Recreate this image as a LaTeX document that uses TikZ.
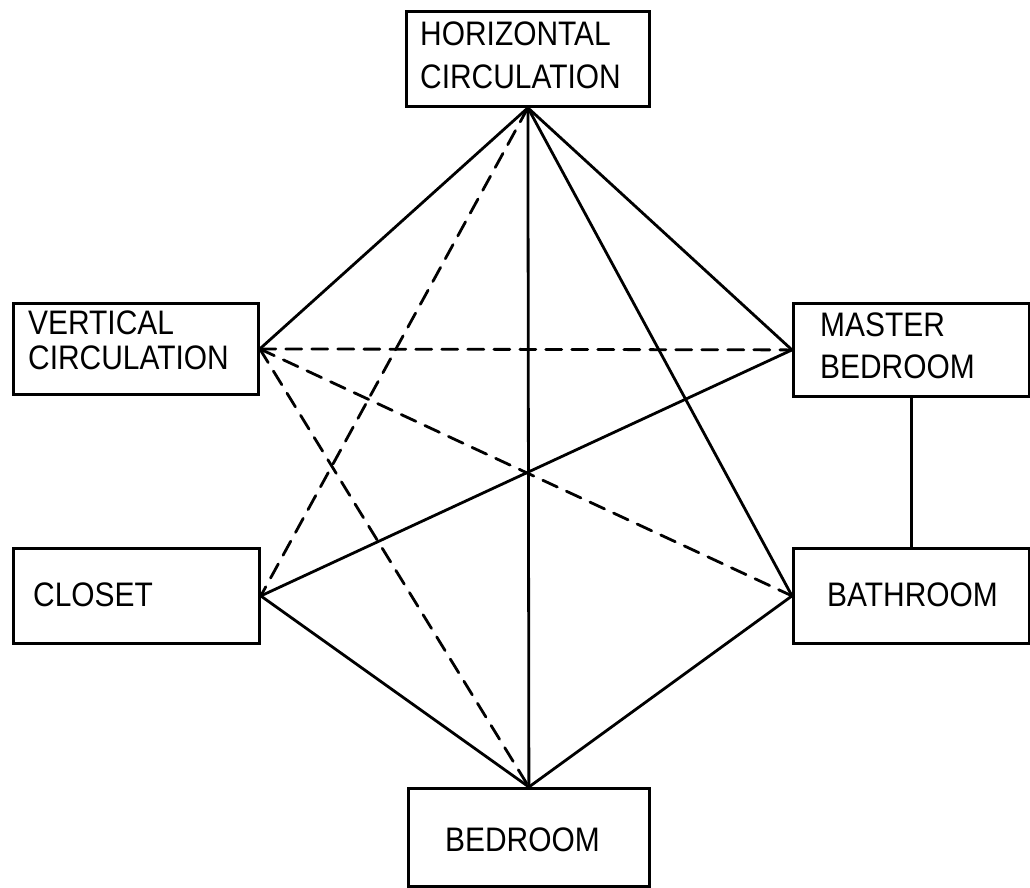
\documentclass[tikz,border=0pt]{standalone}
\usepackage{fontspec}
\setmainfont{Liberation Sans}[FakeStretch=0.88]
\begin{document}
\begin{tikzpicture}[x=1pt,y=-1pt,
  room/.style={draw, line width=2.8pt, inner sep=0pt, anchor=north west},
  lbl/.style={anchor=base west, inner sep=0pt, font=\fontsize{34}{38}\selectfont},
  link/.style={line width=2.8pt, line cap=round},
  weak/.style={link, dash pattern=on 16pt off 10pt}]
\useasboundingbox (0,0) rectangle (1030,887);

% rooms
\node[room, minimum width=243pt, minimum height=95pt] (hc) at (405,10) {};
\node[room, minimum width=245pt, minimum height=91pt] (vc) at (12,302) {};
\node[room, minimum width=236pt, minimum height=93pt] (mb) at (792,302) {};
\node[room, minimum width=246pt, minimum height=95pt] (cl) at (12,547) {};
\node[room, minimum width=236pt, minimum height=95pt] (ba) at (792,547) {};
\node[room, minimum width=241pt, minimum height=98pt] (bd) at (407,787) {};

% room names
\node[lbl] (hc1) at (420,45) {HORIZONTAL};
\node[lbl] (hc2) at (420,88) {CIRCULATION};
\node[lbl] (vc1) at (28,334) {VERTICAL};
\node[lbl] (vc2) at (28,369) {CIRCULATION};
\node[lbl] (mb1) at (820,336) {MASTER};
\node[lbl] (mb2) at (820,378) {BEDROOM};
\node[lbl] (cl1) at (33,606) {CLOSET};
\node[lbl] (ba1) at (827,606) {BATHROOM};
\node[lbl] (bd1) at (445,851) {BEDROOM};

% strong relations
\draw[link] (hc.south) -- (vc.east);
\draw[link] (hc.south) -- (mb.west);
\draw[link] (hc.south) -- (bd.north);
\draw[link] (hc.south) -- (ba.west);
\draw[link] (cl.east) -- (mb.west);
\draw[link] (cl.east) -- (bd.north);
\draw[link] (ba.west) -- (bd.north);
\draw[link] (mb.south) -- (ba.north);

% weak relations
\draw[weak] (hc.south) -- (cl.east);
\draw[weak] (vc.east) -- (mb.west);
\draw[weak] (vc.east) -- (ba.west);
\draw[weak] (vc.east) -- (bd.north);
\end{tikzpicture}
\end{document}
